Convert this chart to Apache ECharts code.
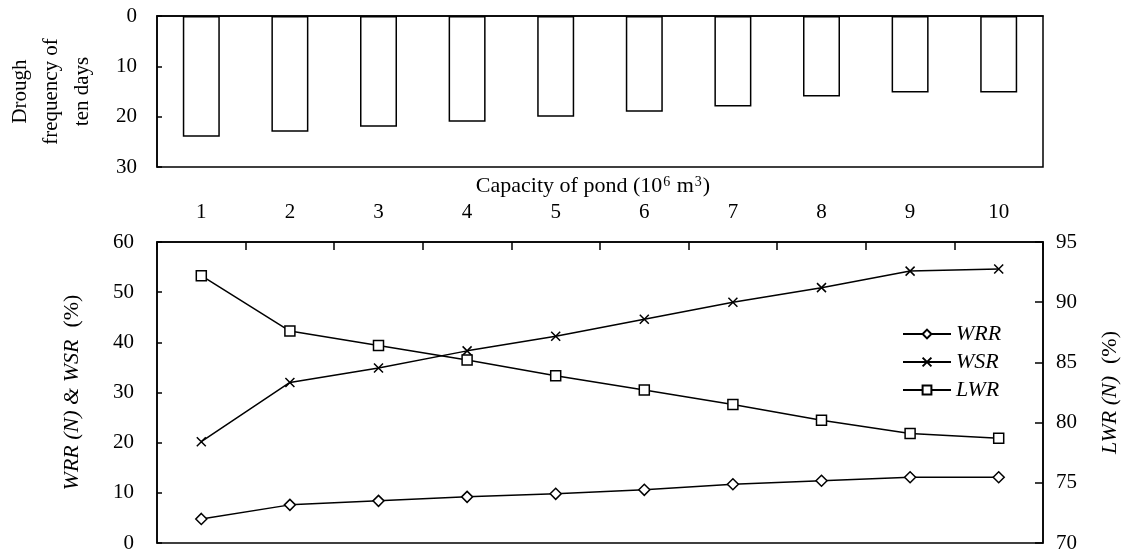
<!DOCTYPE html>
<html>
<head>
<meta charset="utf-8">
<script src="https://cdn.jsdelivr.net/npm/echarts@6/dist/echarts.min.js"></script>
<style>
  html, body { margin: 0; padding: 0; background: #fff; }
  #chart { width: 1126px; height: 559px; }
</style>
</head>
<body>
<div id="chart"></div>
<script>
// Pond capacity (10^6 m^3)
const capacities = ['1', '2', '3', '4', '5', '6', '7', '8', '9', '10'];
// Drought frequency of ten-day periods
const droughtFreq = [24, 23, 22, 21, 20, 19, 18, 16, 15.2, 15.2];
// Water reuse rate WRR(N) (%)
const wrr = [4.8, 7.6, 8.4, 9.2, 9.8, 10.6, 11.7, 12.4, 13.1, 13.1];
// Water supply rate WSR (%)
const wsr = [20.2, 32.0, 34.9, 38.3, 41.2, 44.6, 48.0, 50.9, 54.2, 54.6];
// LWR(N) (%), right axis
const lwr = [92.2, 87.6, 86.4, 85.2, 83.9, 82.7, 81.5, 80.2, 79.1, 78.7];

const FONT = '"Liberation Serif", "Times New Roman", serif';
const BLACK = '#000';
const crossSymbol = 'path://M0,0L10,10M10,0L0,10';

const baseText = { fontFamily: FONT, fontSize: 21, color: BLACK };
const nameRich = {
  i: { fontFamily: FONT, fontSize: 22, fontStyle: 'italic', color: BLACK },
  n: { fontFamily: FONT, fontSize: 22, color: BLACK, padding: [0, 0, 0, 12] }
};

const chart = echarts.init(document.getElementById('chart'), null, { renderer: 'canvas' });

const option = {
  backgroundColor: '#fff',
  animation: false,
  textStyle: { fontFamily: FONT, color: BLACK },
  title: {
    text: 'Capacity of pond (10{sup|6} m{sup|3})',
    left: 588,
    top: 170,
    textAlign: 'center',
    textStyle: {
      fontFamily: FONT, fontSize: 22, fontWeight: 'normal', color: BLACK,
      rich: {
        sup: { fontFamily: FONT, fontSize: 14, color: BLACK, verticalAlign: 'top', padding: [0, 1, 9, 1] }
      }
    }
  },
  legend: {
    orient: 'vertical',
    left: 897,
    top: 318,
    itemWidth: 48,
    itemHeight: 11,
    itemGap: 6,
    data: ['WRR', 'WSR', 'LWR'],
    textStyle: { fontFamily: FONT, fontSize: 22, fontStyle: 'italic', color: BLACK, lineHeight: 22 }
  },
  grid: [
    { left: 157, right: 83, top: 16, height: 151, show: true, borderColor: BLACK, borderWidth: 1.5,
      backgroundColor: 'transparent', containLabel: false, outerBoundsMode: 'none' },
    { left: 157, right: 83, top: 242, height: 301, show: true, borderColor: BLACK, borderWidth: 1.5,
      backgroundColor: 'transparent', containLabel: false, outerBoundsMode: 'none' }
  ],
  xAxis: [
    {
      gridIndex: 0, type: 'category', data: capacities, position: 'top',
      axisLine: { show: true, onZero: false, lineStyle: { color: BLACK, width: 1.5 } },
      axisTick: { show: false }, axisLabel: { show: false }, splitLine: { show: false }
    },
    {
      gridIndex: 1, type: 'category', data: capacities, position: 'top', boundaryGap: true,
      axisLine: { show: true, onZero: false, lineStyle: { color: BLACK, width: 1.5 } },
      axisTick: { show: true, inside: true, length: 8, lineStyle: { color: BLACK, width: 1.5 } },
      axisLabel: Object.assign({ margin: 19 }, baseText),
      splitLine: { show: false }
    }
  ],
  yAxis: [
    {
      gridIndex: 0, type: 'value', inverse: true, min: 0, max: 30, interval: 10,
      name: 'Drough\nfrequency of\nten days',
      nameLocation: 'middle', nameGap: 59,
      nameTextStyle: { fontFamily: FONT, fontSize: 21, color: BLACK, lineHeight: 31, align: 'center' },
      axisLine: { show: true, lineStyle: { color: BLACK, width: 1.5 } },
      axisTick: { show: true, inside: true, length: 5, lineStyle: { color: BLACK, width: 1.5 } },
      axisLabel: Object.assign({ margin: 20 }, baseText),
      splitLine: { show: false }
    },
    {
      gridIndex: 1, type: 'value', min: 0, max: 60, interval: 10, position: 'left',
      name: '{i|WRR (N) & WSR}{n|(%)}',
      nameLocation: 'middle', nameGap: 74,
      nameTextStyle: { rich: nameRich },
      axisLine: { show: true, lineStyle: { color: BLACK, width: 1.5 } },
      axisTick: { show: true, inside: true, length: 5, lineStyle: { color: BLACK, width: 1.5 } },
      axisLabel: Object.assign({ margin: 23 }, baseText),
      splitLine: { show: false }
    },
    {
      gridIndex: 1, type: 'value', min: 70, max: 95, interval: 5, position: 'right',
      name: '{i|LWR (N)}{n|(%)}',
      nameLocation: 'middle', nameGap: 56,
      nameTextStyle: { rich: nameRich },
      axisLine: { show: true, lineStyle: { color: BLACK, width: 1.5 } },
      axisTick: { show: true, inside: true, length: 8, lineStyle: { color: BLACK, width: 1.5 } },
      axisLabel: Object.assign({ margin: 13 }, baseText),
      splitLine: { show: false }
    }
  ],
  series: [
    {
      name: 'Drought', type: 'bar', xAxisIndex: 0, yAxisIndex: 0,
      data: droughtFreq, barWidth: 37,
      itemStyle: { color: '#fff', borderColor: BLACK, borderWidth: 1.5 },
      silent: true
    },
    {
      name: 'WRR', type: 'line', xAxisIndex: 1, yAxisIndex: 1, data: wrr,
      symbol: 'diamond', symbolSize: [11, 11], showAllSymbol: true,
      lineStyle: { color: BLACK, width: 1.5 },
      itemStyle: { color: '#fff', borderColor: BLACK, borderWidth: 1.5 }
    },
    {
      name: 'WSR', type: 'line', xAxisIndex: 1, yAxisIndex: 1, data: wsr,
      symbol: crossSymbol, symbolSize: 9, showAllSymbol: true,
      lineStyle: { color: BLACK, width: 1.5 },
      itemStyle: { color: '#fff', borderColor: BLACK, borderWidth: 1.5 }
    },
    {
      name: 'LWR', type: 'line', xAxisIndex: 1, yAxisIndex: 2, data: lwr,
      symbol: 'rect', symbolSize: 10, showAllSymbol: true,
      lineStyle: { color: BLACK, width: 1.5 },
      itemStyle: { color: '#fff', borderColor: BLACK, borderWidth: 1.5 }
    }
  ]
};

chart.setOption(option);
</script>
</body>
</html>
